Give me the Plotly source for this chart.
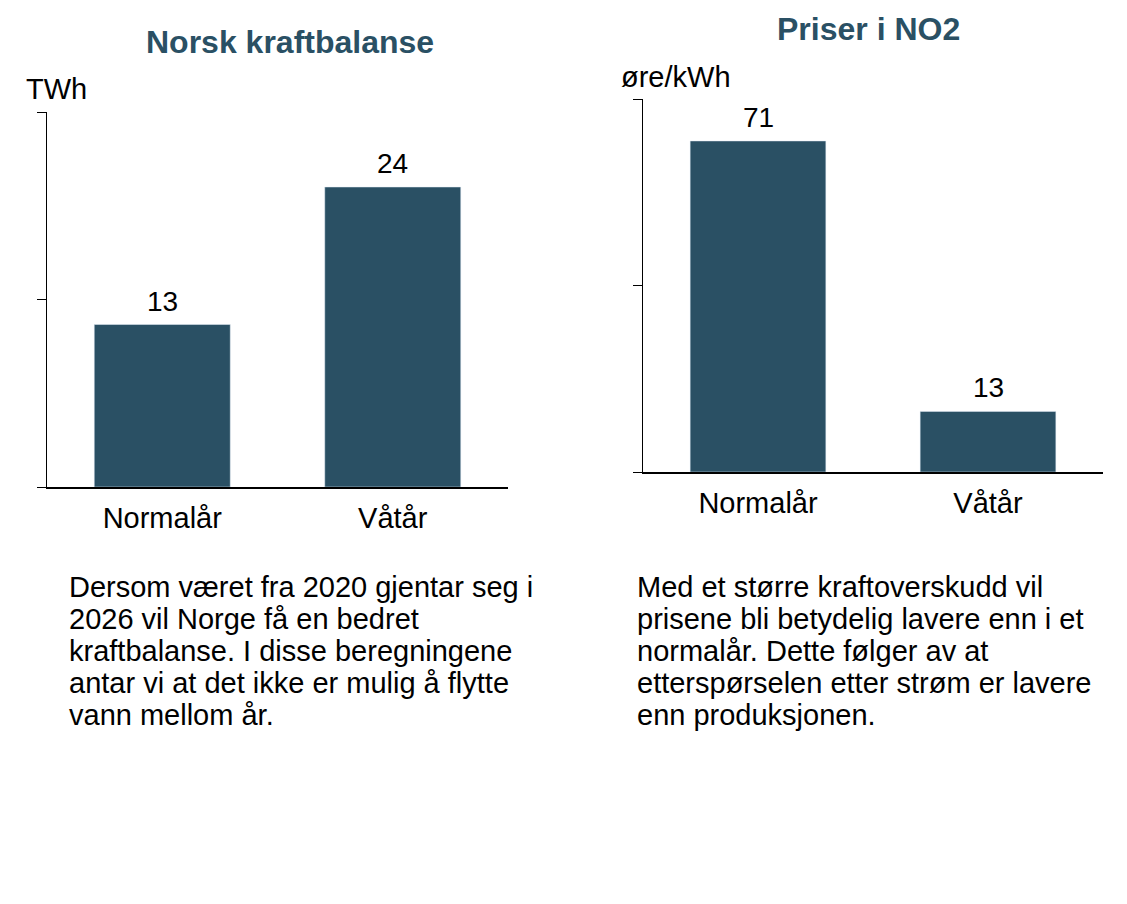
import plotly.graph_objects as go

# ---- data ----
categories = ["Normalår", "Våtår"]
kraftbalanse_twh = [13, 24]
priser_no2 = [71, 13]

title_left = "Norsk kraftbalanse"
title_right = "Priser i NO2"
unit_left = "TWh"
unit_right = "øre/kWh"
text_left = [
    "Dersom været fra 2020 gjentar seg i",
    "2026 vil Norge få en bedret",
    "kraftbalanse. I disse beregningene",
    "antar vi at det ikke er mulig å flytte",
    "vann mellom år.",
]
text_right = [
    "Med et større kraftoverskudd vil",
    "prisene bli betydelig lavere enn i et",
    "normalår. Dette følger av at",
    "etterspørselen etter strøm er lavere",
    "enn produksjonen.",
]

OFF = 8  # page body margin
W, H = 1127 - 2 * OFF, 904 - 2 * OFF
BAR = "#2A5064"
FONT = "Arial, Liberation Sans, sans-serif"


def xp(px):
    return (px - OFF) / W


def yp(py):
    return 1 - (py - OFF) / H


fig = go.Figure()
fig.add_trace(go.Bar(x=categories, y=kraftbalanse_twh, marker_color=BAR, width=0.59,
                     xaxis="x", yaxis="y", showlegend=False, hoverinfo="x+y"))
fig.add_trace(go.Bar(x=categories, y=priser_no2, marker_color=BAR, width=0.59,
                     xaxis="x2", yaxis="y2", showlegend=False, hoverinfo="x+y"))

xcommon = dict(showline=True, linecolor="black", linewidth=2, ticks="", showgrid=False,
               zeroline=False, tickfont=dict(size=29, color="black"), range=[-0.5, 1.5],
               fixedrange=True, ticklabelstandoff=4)
ycommon = dict(showline=True, linecolor="black", linewidth=1, ticks="outside", ticklen=9,
               tickcolor="black", tickwidth=1, showticklabels=False, showgrid=False,
               zeroline=False, fixedrange=True)

fig.update_layout(
    width=W, height=H,
    margin=dict(l=0, r=0, t=0, b=0),
    paper_bgcolor="white", plot_bgcolor="white",
    font=dict(family=FONT, color="black"),
    xaxis=dict(domain=[xp(47), xp(508)], anchor="y", **xcommon),
    yaxis=dict(domain=[yp(487), yp(112)], anchor="x", range=[0, 30], tickvals=[0, 15, 30], **ycommon),
    xaxis2=dict(domain=[xp(643), xp(1103)], anchor="y2", **xcommon),
    yaxis2=dict(domain=[yp(472), yp(99)], anchor="x2", range=[0, 80], tickvals=[0, 40, 80], **ycommon),
    bargap=0.41,
)

ann = []
# value labels above bars (data coordinates)
for c, v in zip(categories, kraftbalanse_twh):
    ann.append(dict(text=str(v), x=c, y=v, xref="x", yref="y", yanchor="bottom", xanchor="center",
                    yshift=6, font=dict(size=28), showarrow=False))
for c, v in zip(categories, priser_no2):
    ann.append(dict(text=str(v), x=c, y=v, xref="x2", yref="y2", yanchor="bottom", xanchor="center",
                    yshift=6, font=dict(size=28), showarrow=False))

pa = []
pa.append(dict(text=f"<b>{title_left}</b>", x=xp(290), y=yp(42), font=dict(size=32, color="#2A5064"),
               xanchor="center", yanchor="middle"))
pa.append(dict(text=f"<b>{title_right}</b>", x=xp(868), y=yp(29), font=dict(size=32, color="#2A5064"),
               xanchor="center", yanchor="middle"))
pa.append(dict(text=unit_left, x=xp(24), y=yp(89), font=dict(size=29), xanchor="left", yanchor="middle"))
pa.append(dict(text=unit_right, x=xp(619), y=yp(77), font=dict(size=29), xanchor="left", yanchor="middle"))
line_y = [587, 619, 651, 683, 715]
for ly, t in zip(line_y, text_left):
    pa.append(dict(text=t, x=xp(67), y=yp(ly), font=dict(size=29), xanchor="left", yanchor="middle"))
for ly, t in zip(line_y, text_right):
    pa.append(dict(text=t, x=xp(635), y=yp(ly), font=dict(size=29), xanchor="left", yanchor="middle"))
for a in pa:
    a.update(xref="paper", yref="paper", showarrow=False)
fig.update_layout(annotations=ann + pa)

fig.write_html("out.html")
